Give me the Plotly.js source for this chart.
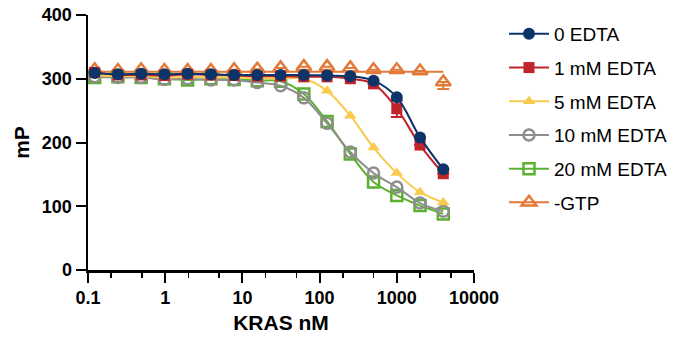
<!DOCTYPE html>
<html>
<head>
<meta charset="utf-8">
<script src="https://cdn.plot.ly/plotly-3.0.1.min.js"></script>
<style>html,body{margin:0;padding:0;background:#fff;}#chart{width:696px;height:339px;}</style>
</head>
<body>
<div id="chart"></div>
<script>
// KRAS concentration (nM), 2-fold dilution series
const krasNM = [0.122, 0.244, 0.488, 0.977, 1.95, 3.91, 7.81, 15.6, 31.25, 62.5, 125, 250, 500, 1000, 2000, 4000];

// mP values
const edta0  = [309, 307, 308, 307, 308, 307, 306, 306, 306, 306, 305, 304, 297, 271, 208, 158];
const edta1  = [310, 306, 306, 305, 307, 306, 305, 304, 304, 303, 303, 300, 292, 253, 196, 151];
const edta5  = [305, 304, 304, 302, 303, 302, 302, 301, 300, 300, 281, 242, 192, 152, 122, 106];
const edta10 = [303, 302, 302, 299, 300, 298, 298, 294, 289, 270, 230, 185, 152, 130, 105, 92];
const edta20 = [302, 303, 302, 300, 298, 300, 299, 297, 296, 276, 233, 182, 138, 117, 101, 88];
const noGTP  = [314, 313, 314, 313, 313, 313, 314, 315, 317, 319, 319, 317, 314, 314, 312, 295];

// error bars (only visible ones)
const edta1Err  = [0, 0, 0, 0, 0, 0, 0, 0, 0, 0, 0, 0, 0, 13, 0, 0];
const noGTPErrUp   = [0, 0, 0, 0, 0, 0, 0, 0, 0, 0, 0, 0, 0, 0, 0, 0];
const noGTPErrDown = [0, 0, 0, 0, 0, 0, 0, 0, 0, 0, 0, 0, 0, 0, 0, 11];

// fitted plateau for -GTP
const noGTPFitX = [0.122, 4000];
const noGTPFitY = [311, 311];

const seriesNames = ['0 EDTA', '1 mM EDTA', '5 mM EDTA', '10 mM EDTA', '20 mM EDTA', '-GTP'];
const yTicks = [0, 100, 200, 300, 400];
const xTicks = [0.1, 1, 10, 100, 1000, 10000];
const xTickText = ['0.1', '1', '10', '100', '1000', '10000'];

const C = {
  navy: '#0c3468', red: '#c1232b', yellow: '#f8cb4e', gray: '#8e8e8e', green: '#5cb030', orange: '#e27a3a'
};

const traces = [];
// -GTP (bottom layer)
traces.push({x: noGTPFitX, y: noGTPFitY, mode: 'lines', line: {color: C.orange, width: 2},
  showlegend: false, legendgroup: 'g6', hoverinfo: 'skip'});
traces.push({x: krasNM, y: noGTP, mode: 'markers', showlegend: false, legendgroup: 'g6',
  marker: {symbol: 'triangle-up-open', size: 13, color: C.orange, line: {width: 2.5, color: C.orange}},
  error_y: {type: 'data', symmetric: false, array: noGTPErrUp, arrayminus: noGTPErrDown, color: C.orange, thickness: 2, width: 6}});
traces.push({x: [null], y: [null], mode: 'lines+markers', name: seriesNames[5], legendgroup: 'g6', legendrank: 6,
  line: {color: C.orange, width: 2},
  marker: {symbol: 'triangle-up-open', size: 13, color: C.orange, line: {width: 2.5, color: C.orange}}});
// 20 mM
traces.push({x: krasNM, y: edta20, mode: 'lines+markers', name: seriesNames[4], legendgroup: 'g5', legendrank: 5,
  line: {color: C.green, width: 2, shape: 'spline'},
  marker: {symbol: 'square-open', size: 11, color: C.green, line: {width: 2.5, color: C.green}}});
// 10 mM
traces.push({x: krasNM, y: edta10, mode: 'lines+markers', name: seriesNames[3], legendgroup: 'g4', legendrank: 4,
  line: {color: C.gray, width: 2, shape: 'spline'},
  marker: {symbol: 'circle-open', size: 11, color: C.gray, line: {width: 2.5, color: C.gray}}});
// 5 mM
traces.push({x: krasNM, y: edta5, mode: 'lines+markers', name: seriesNames[2], legendgroup: 'g3', legendrank: 3,
  line: {color: C.yellow, width: 2, shape: 'spline'},
  marker: {symbol: 'triangle-up', size: 11, color: C.yellow}});
// 1 mM
traces.push({x: krasNM, y: edta1, mode: 'lines+markers', name: seriesNames[1], legendgroup: 'g2', legendrank: 2,
  line: {color: C.red, width: 2, shape: 'spline'},
  marker: {symbol: 'square', size: 11, color: C.red},
  error_y: {type: 'data', array: edta1Err, color: C.red, thickness: 2, width: 6}});
// 0 EDTA
traces.push({x: krasNM, y: edta0, mode: 'lines+markers', name: seriesNames[0], legendgroup: 'g1', legendrank: 1,
  line: {color: C.navy, width: 2, shape: 'spline'},
  marker: {symbol: 'circle', size: 12, color: C.navy}});

const fontFam = 'Arial, "Liberation Sans", Helvetica, sans-serif';
const layout = {
  width: 696, height: 339,
  margin: {l: 88, r: 222, t: 15, b: 69},
  paper_bgcolor: '#fff', plot_bgcolor: '#fff',
  font: {family: fontFam, color: '#000'},
  xaxis: {
    type: 'log', range: [-1, 4],
    tickvals: xTicks, ticktext: xTickText,
    ticks: 'outside', ticklen: 10, tickwidth: 2, tickcolor: '#000',
    showline: true, linewidth: 2.5, linecolor: '#000',
    showgrid: false, zeroline: false,
    tickfont: {size: 18, weight: 'bold', family: fontFam},
    minor: {ticks: 'outside', ticklen: 5, tickwidth: 1.5, tickcolor: '#000', showgrid: false},
    title: {text: 'KRAS nM', font: {size: 21, weight: 'bold', family: fontFam}, standoff: 8}
  },
  yaxis: {
    range: [0, 400], tickvals: yTicks,
    ticks: 'outside', ticklen: 10, tickwidth: 2, tickcolor: '#000',
    showline: true, linewidth: 2.5, linecolor: '#000',
    showgrid: false, zeroline: false,
    tickfont: {size: 18, weight: 'bold', family: fontFam},
    title: {text: 'mP', font: {size: 21, weight: 'bold', family: fontFam}, standoff: 7}
  },
  legend: {
    x: 1.0777, y: 1.0, xanchor: 'left', yanchor: 'top',
    font: {size: 19, family: fontFam},
    tracegroupgap: 6, itemwidth: 40,
    bgcolor: 'rgba(0,0,0,0)'
  },
  showlegend: true
};

Plotly.newPlot('chart', traces, layout, {staticPlot: true, displayModeBar: false});
</script>
</body>
</html>
